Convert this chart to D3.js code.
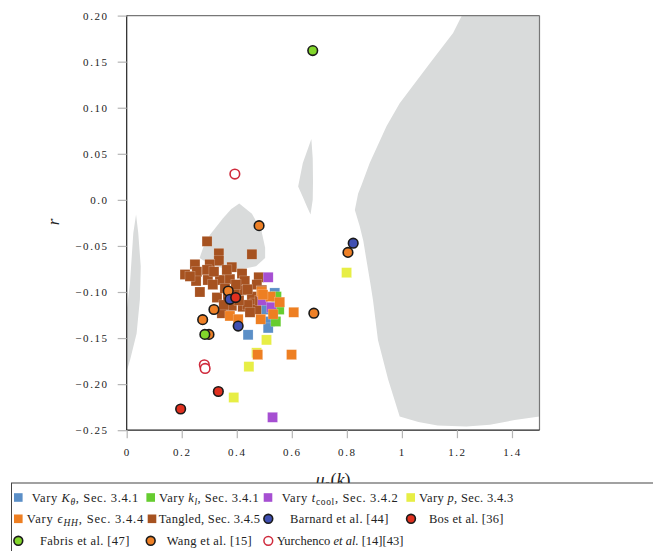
<!DOCTYPE html>
<html>
<head>
<meta charset="utf-8">
<script src="https://cdn.jsdelivr.net/npm/d3@7"></script>
<style>
  body { margin: 0; background: #fff; }
  svg { display: block; }
  text { font-family: "Liberation Serif", "DejaVu Serif", serif; fill: #222; }
</style>
</head>
<body>
<svg id="chart" width="653" height="551"></svg>
<script>
// ---- axis ticks ----
const xTicks = [0, 0.2, 0.4, 0.6, 0.8, 1, 1.2, 1.4];
const xTickLabels = ["0", "0.2", "0.4", "0.6", "0.8", "1", "1.2", "1.4"];
const yTicks = [0.20, 0.15, 0.10, 0.05, 0.0, -0.05, -0.10, -0.15, -0.20, -0.25];
const yTickLabels = ["0.20", "0.15", "0.10", "0.05", "0.0", "−0.05", "−0.10", "−0.15", "−0.20", "−0.25"];

// ---- shaded regions in (mu0, r) ----
const regionRight = [[1.218,0.2],[1.186,0.181],[1.101,0.148],[0.992,0.105],[0.944,0.080],[0.883,0.040],
  [0.852,0.015],[0.841,0.007],[0.829,-0.011],[0.847,-0.029],[0.860,-0.045],[0.871,-0.065],[0.885,-0.09],
  [0.895,-0.109],[0.913,-0.152],[0.950,-0.195],[0.992,-0.235],[1.06,-0.241],[1.13,-0.245],[1.234,-0.246],
  [1.32,-0.244],[1.41,-0.239],[1.5,-0.235],[1.5,0.2]];
const regionSliver = [[0.671,0.066],[0.676,0.045],[0.677,0.02],[0.676,0.0],[0.668,-0.016],[0.656,-0.008],
  [0.640,0.003],[0.623,0.0145],[0.640,0.040]];
const regionBlob = [[0.409,-0.004],[0.455,-0.015],[0.490,-0.034],[0.503,-0.052],[0.503,-0.063],[0.470,-0.072],
  [0.420,-0.075],[0.360,-0.075],[0.300,-0.070],[0.265,-0.063],[0.280,-0.050],[0.302,-0.038],[0.350,-0.020],[0.380,-0.010]];
const regionLeft = [[0.034,-0.016],[0.042,-0.036],[0.051,-0.072],[0.048,-0.108],[0.036,-0.145],[0.012,-0.174],
  [0,-0.186],[0,-0.12],[0.012,-0.09],[0.024,-0.036]];

// ---- simulation runs (mu0, r) ----
const tangled = [[0.292,-0.045],[0.455,-0.059],[0.335,-0.058],[0.335,-0.066],[0.248,-0.070],[0.302,-0.070],
  [0.382,-0.073],[0.212,-0.081],[0.255,-0.078],[0.292,-0.076],[0.252,-0.088],[0.295,-0.087],[0.339,-0.087],
  [0.375,-0.086],[0.419,-0.080],[0.429,-0.088],[0.480,-0.084],[0.473,-0.092],[0.266,-0.100],[0.328,-0.106],
  [0.419,-0.098],[0.455,-0.105],[0.466,-0.112],[0.422,-0.116],[0.346,-0.123],[0.382,-0.115],[0.473,-0.119],
  [0.357,-0.096],[0.393,-0.101],[0.440,-0.114],[0.313,-0.092],[0.408,-0.109],[0.491,-0.098],[0.364,-0.076],
  [0.317,-0.078],[0.397,-0.092],[0.448,-0.122],[0.368,-0.105],[0.230,-0.083],[0.440,-0.097],[0.484,-0.109],
  [0.353,-0.114]];
const varyKtheta = [[0.538,-0.101],[0.520,-0.132],[0.514,-0.139],[0.441,-0.1465],[0.508,-0.119]];
const varyKl = [[0.544,-0.105],[0.554,-0.119],[0.542,-0.132]];
const varyTcool = [[0.514,-0.084],[0.494,-0.109],[0.526,-0.1165],[0.530,-0.236]];
const varyP = [[0.508,-0.152],[0.472,-0.166],[0.444,-0.181],[0.389,-0.2145],[0.799,-0.079]];
const varyEps = [[0.490,-0.0995],[0.523,-0.105],[0.556,-0.111],[0.532,-0.124],[0.607,-0.122],[0.487,-0.1295],
  [0.375,-0.126],[0.405,-0.1295],[0.476,-0.168],[0.599,-0.168],[0.495,-0.103]];

// ---- published measurements (mu0, r) ----
const barnard = [[0.375,-0.108],[0.405,-0.137],[0.823,-0.047]];
const bos = [[0.396,-0.106],[0.333,-0.208],[0.196,-0.227]];
const fabris = [[0.284,-0.146],[0.676,0.162]];
const wang = [[0.481,-0.028],[0.369,-0.099],[0.317,-0.119],[0.276,-0.130],[0.299,-0.146],[0.680,-0.123],[0.804,-0.057]];
const yurchenco = [[0.282,-0.179],[0.285,-0.183],[0.393,0.028]];

const C = {
  K: "#5b8fc7", kl: "#66cc30", tcool: "#a64fd2", p: "#e7ee45", eps: "#ee7f22", tangled: "#a65220",
  barnard: "#3f4fb2", bos: "#e0301f", fabris: "#82d62b", wang: "#ee8026", yurchenco: "#cf2a3c",
  region: "#d9dbdb"
};

const svg = d3.select("#chart");
const x = d3.scaleLinear().domain([0, 1.5]).range([126.7, 539.5]);
const y = d3.scaleLinear().domain([-0.25, 0.2]).range([430.2, 15.6]);

svg.append("defs").append("clipPath").attr("id", "plotClip")
  .append("rect").attr("x", x(0)).attr("y", y(0.2)).attr("width", x(1.5) - x(0)).attr("height", y(-0.25) - y(0.2));

const plot = svg.append("g").attr("clip-path", "url(#plotClip)");
const line = d3.line().x(d => x(d[0])).y(d => y(d[1]));

[regionRight, regionSliver, regionBlob, regionLeft].forEach(r => {
  plot.append("path").attr("d", line(r) + "Z").attr("fill", C.region);
});

// square markers
const sq = 10;
function squares(data, color) {
  plot.append("g").selectAll("rect").data(data).join("rect")
    .attr("x", d => x(d[0]) - sq / 2).attr("y", d => y(d[1]) - sq / 2)
    .attr("width", sq).attr("height", sq).attr("fill", color)
    .attr("stroke", "#fff").attr("stroke-width", 0.4).attr("stroke-opacity", 0.5);
}
squares(tangled, C.tangled);
squares(varyKtheta, C.K);
squares(varyKl, C.kl);
squares(varyTcool, C.tcool);
squares(varyP, C.p);
squares(varyEps, C.eps);

// circle markers
function circles(data, fill, stroke) {
  plot.append("g").selectAll("circle").data(data).join("circle")
    .attr("cx", d => x(d[0])).attr("cy", d => y(d[1])).attr("r", 4.8)
    .attr("fill", fill).attr("stroke", stroke).attr("stroke-width", 1.6);
}
circles(wang, C.wang, "#1a1a1a");
circles(fabris, C.fabris, "#1a1a1a");
circles(barnard, C.barnard, "#1a1a1a");
circles(bos, C.bos, "#1a1a1a");
circles(yurchenco, "#fff", C.yurchenco);

// frame
svg.append("line").attr("x1", x(0)).attr("x2", x(1.5)).attr("y1", y(0.2)).attr("y2", y(0.2)).attr("stroke", "#777").attr("stroke-width", 1.2);
svg.append("line").attr("x1", x(1.5)).attr("x2", x(1.5)).attr("y1", y(0.2)).attr("y2", y(-0.25)).attr("stroke", "#777").attr("stroke-width", 1.2);
svg.append("line").attr("x1", x(0)).attr("x2", x(0)).attr("y1", y(0.2)).attr("y2", y(-0.25)).attr("stroke", "#222").attr("stroke-width", 1.2);
svg.append("line").attr("x1", x(0)).attr("x2", x(1.5)).attr("y1", y(-0.25)).attr("y2", y(-0.25)).attr("stroke", "#222").attr("stroke-width", 1.2);

// axes
const xAxis = d3.axisBottom(x).tickValues(xTicks).tickSize(8).tickPadding(8)
  .tickFormat((d, i) => xTickLabels[i]);
const gx = svg.append("g").attr("transform", `translate(0,${y(-0.25)})`).call(xAxis);
const yAxis = d3.axisLeft(y).tickValues(yTicks).tickSize(9).tickPadding(9)
  .tickFormat((d, i) => yTickLabels[i]);
const gy = svg.append("g").attr("transform", `translate(${x(0)},0)`).call(yAxis);
[gx, gy].forEach(g => {
  g.select(".domain").remove();
  g.selectAll(".tick line").attr("stroke", "#b5b5b5").attr("stroke-width", 1.2);
  g.selectAll(".tick text").attr("font-family", "Liberation Serif, serif").attr("font-size", 11)
    .attr("letter-spacing", "1.6px").attr("fill", "#333");
});
gx.selectAll(".tick text").attr("dy", "0.9em");

// axis titles
svg.append("text").attr("transform", "translate(59,222) rotate(-90)").attr("text-anchor", "middle")
  .attr("font-size", 17).attr("font-style", "italic").text("r");

const xl = svg.append("text").attr("x", x(0.75)).attr("y", 486).attr("text-anchor", "middle").attr("font-size", 18);
xl.append("tspan").attr("font-style", "italic").text("μ");
xl.append("tspan").attr("font-size", 12).attr("dy", 4).text("0");
xl.append("tspan").attr("dy", -4).text("(");
xl.append("tspan").attr("font-style", "italic").text("k");
xl.append("tspan").text(")");

// legend
const legend = svg.append("g");
legend.append("rect").attr("x", 11.5).attr("y", 483).attr("width", 700).attr("height", 120)
  .attr("fill", "#fff").attr("stroke", "#444").attr("stroke-width", 1);

const legendItems = [
  { kind: "sq", color: C.K, mx: 18.3, tx: 31.7, w: 106.6, row: 0,
    parts: [["Vary "], ["K", "i"], ["θ", "is"], [", Sec. 3.4.1"]] },
  { kind: "sq", color: C.kl, mx: 150.7, tx: 159, w: 99.7, row: 0,
    parts: [["Vary "], ["k", "i"], ["l", "is"], [", Sec. 3.4.1"]] },
  { kind: "sq", color: C.tcool, mx: 268, tx: 281.7, w: 116, row: 0,
    parts: [["Vary "], ["t", "i"], ["cool", "s"], [", Sec. 3.4.2"]] },
  { kind: "sq", color: C.p, mx: 410.7, tx: 419, w: 94.3, row: 0,
    parts: [["Vary "], ["p", "i"], [", Sec. 3.4.3"]] },
  { kind: "sq", color: C.eps, mx: 18.3, tx: 26.7, w: 116.6, row: 1,
    parts: [["Vary "], ["ϵ", "i"], ["HH", "is"], [", Sec. 3.4.4"]] },
  { kind: "sq", color: C.tangled, mx: 152, tx: 158.7, w: 101.3, row: 1,
    parts: [["Tangled, Sec. 3.4.5"]] },
  { kind: "ci", color: C.barnard, mx: 268.3, tx: 290, w: 98.3, row: 1,
    parts: [["Barnard et al. [44]"]] },
  { kind: "ci", color: C.bos, mx: 411, tx: 429, w: 74.3, row: 1,
    parts: [["Bos et al. [36]"]] },
  { kind: "ci", color: C.fabris, mx: 18.3, tx: 40, w: 89.3, row: 2,
    parts: [["Fabris et al. [47]"]] },
  { kind: "ci", color: C.wang, mx: 150.7, tx: 166.7, w: 85, row: 2,
    parts: [["Wang et al. [15]"]] },
  { kind: "open", color: C.yurchenco, mx: 268.3, tx: 276.7, w: 126.7, row: 2,
    parts: [["Yurchenco "], ["et al.", "i"], [" [14][43]"]] }
];
const rowY = [497.5, 518.8, 540.8];

legendItems.forEach(it => {
  const cy = rowY[it.row];
  if (it.kind === "sq") {
    legend.append("rect").attr("x", it.mx - 4.3).attr("y", cy - 4.3).attr("width", 8.6).attr("height", 8.6).attr("fill", it.color);
  } else if (it.kind === "ci") {
    legend.append("circle").attr("cx", it.mx).attr("cy", cy).attr("r", 4.4).attr("fill", it.color)
      .attr("stroke", "#1a1a1a").attr("stroke-width", 1.6);
  } else {
    legend.append("circle").attr("cx", it.mx).attr("cy", cy).attr("r", 4.4).attr("fill", "#fff")
      .attr("stroke", it.color).attr("stroke-width", 1.5);
  }
  const t = legend.append("text").attr("x", it.tx).attr("y", cy + 4).attr("font-size", 12.5)
    .attr("textLength", it.w).attr("lengthAdjust", "spacing");
  let sub = false;
  it.parts.forEach(p => {
    const s = t.append("tspan").text(p[0]);
    const st = p[1] || "";
    if (st.includes("i")) s.attr("font-style", "italic");
    const wantSub = st.includes("s");
    if (wantSub && !sub) { s.attr("dy", 3.5).attr("font-size", 9.5); sub = true; }
    else if (wantSub) { s.attr("font-size", 9.5); }
    else if (!wantSub && sub) { s.attr("dy", -3.5); sub = false; }
  });
});
</script>
</body>
</html>
